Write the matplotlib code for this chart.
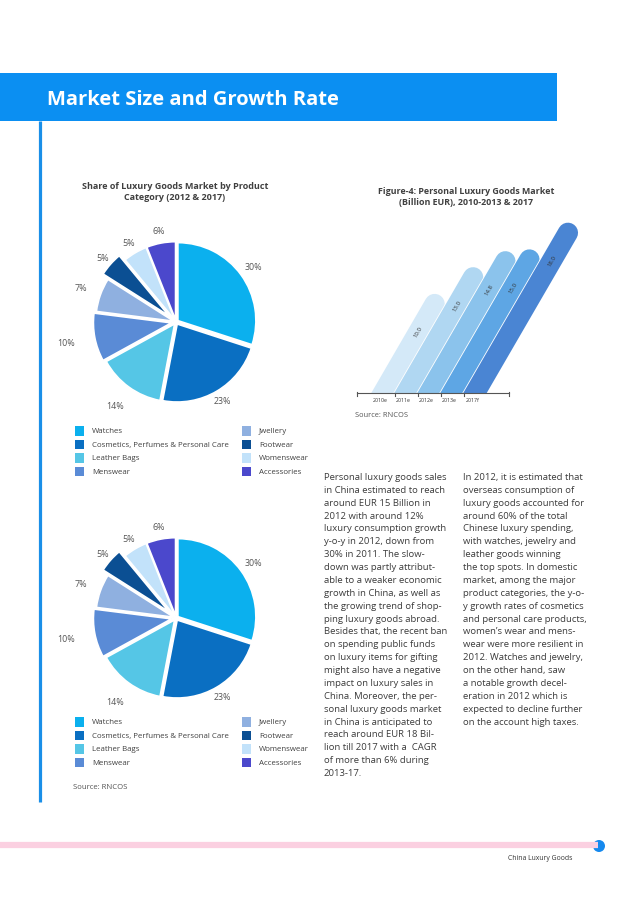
import matplotlib
matplotlib.use('Agg')
import matplotlib.pyplot as plt
from matplotlib.patches import Rectangle, Circle
import matplotlib.patheffects as pe
import numpy as np

W, H = 638, 903
FAM = ['Open Sans', 'DejaVu Sans']

# ---------------- data ----------------
page_title = "Market Size and Growth Rate"
pie_title = ["Share of Luxury Goods Market by Product", "Category (2012 & 2017)"]
categories = ["Watches", "Cosmetics, Perfumes & Personal Care", "Leather Bags", "Menswear",
              "Jwellery", "Footwear", "Womenswear", "Accessories"]
shares_2012 = [30, 23, 14, 10, 7, 5, 5, 6]
shares_2017 = [30, 23, 14, 10, 7, 5, 5, 6]
pie_colors = ['#0bb0ee', '#0a6fc2', '#55c6e6', '#5a8bd6', '#8fb0e0', '#0b4f93', '#c2e2fa', '#4b48cc']

bar_title = ["Figure-4: Personal Luxury Goods Market", "(Billion EUR), 2010-2013 & 2017"]
years = ["2010e", "2011e", "2012e", "2013e", "2017f"]
market_size = [10.0, 13.0, 14.8, 15.0, 18.0]
bar_colors = ['#d4e9f8', '#b0d7f2', '#8bc3ec', '#5ea6e4', '#4a85d3']

source = "Source: RNCOS"
footer = "China Luxury Goods"

col1 = ["Personal luxury goods sales", "in China estimated to reach", "around EUR 15 Billion in",
        "2012 with around 12%", "luxury consumption growth", "y-o-y in 2012, down from",
        "30% in 2011. The slow-", "down was partly attribut-", "able to a weaker economic",
        "growth in China, as well as", "the growing trend of shop-", "ping luxury goods abroad.",
        "Besides that, the recent ban", "on spending public funds", "on luxury items for gifting",
        "might also have a negative", "impact on luxury sales in", "China. Moreover, the per-",
        "sonal luxury goods market", "in China is anticipated to", "reach around EUR 18 Bil-",
        "lion till 2017 with a  CAGR", "of more than 6% during", "2013-17."]
col2 = ["In 2012, it is estimated that", "overseas consumption of", "luxury goods accounted for",
        "around 60% of the total", "Chinese luxury spending,", "with watches, jewelry and",
        "leather goods winning", "the top spots. In domestic", "market, among the major",
        "product categories, the y-o-", "y growth rates of cosmetics", "and personal care products,",
        "women\u2019s wear and mens-", "wear were more resilient in", "2012. Watches and jewelry,",
        "on the other hand, saw", "a notable growth decel-", "eration in 2012 which is",
        "expected to decline further", "on the account high taxes."]

# ---------------- figure ----------------
fig = plt.figure(figsize=(W / 100, H / 100), dpi=100)
fig.patch.set_facecolor('white')
renderer = fig.canvas.get_renderer()


def fit(text, target_px, weight='normal', base=10.0):
    t = fig.text(0, 0, text, fontsize=base, fontweight=weight, family=FAM)
    w = t.get_window_extent(renderer=renderer).width
    t.remove()
    return base * target_px / w


def px_axes(x0, y0, w, h):
    return fig.add_axes([x0 / W, 1 - (y0 + h) / H, w / W, h / H])


bg = fig.add_axes([0, 0, 1, 1])
bg.set_xlim(0, W)
bg.set_ylim(H, 0)
bg.axis('off')

BLUE = '#0b8ff2'
# header
bg.add_patch(Rectangle((0, 74), 557, 48, color=BLUE, lw=0))
bg.text(47, 105, page_title, fontsize=fit(page_title, 293, 'bold'), fontweight='bold',
        color='white', family=FAM, va='baseline', ha='left')
# vertical rule
bg.plot([39.5, 39.5], [122, 803], color='#1a8fe8', lw=2.3, solid_capstyle='butt')
# footer
bg.plot([0, 598], [846.5, 846.5], color='#fbd0e1', lw=4.5, solid_capstyle='butt')
bg.add_patch(Circle((599, 847), 6, color='#1589ee', lw=0))
bg.text(540, 859, footer, fontsize=fit(footer, 65), color='#333333', family=FAM,
        ha='center', va='center')

dark = '#404040'
# pie title
tfs = fit(pie_title[0], 187, 'bold')
bg.text(175, 189, pie_title[0], fontsize=tfs, fontweight='bold', color=dark, family=FAM,
        ha='center', va='baseline')
bg.text(175, 200.5, pie_title[1], fontsize=tfs, fontweight='bold', color=dark, family=FAM,
        ha='center', va='baseline')

# ---------------- pies ----------------
explode = [0.03, 0.03, 0.03, 0.06, 0.03, 0.12, 0.03, 0.03]
label_r = [1.22, 1.17, 1.32, 1.43, 1.30, 1.25, 1.18, 1.20]
pct_fs = fit("30%", 17.5)
leg_fs = fit(categories[1], 138)


def draw_pie(cx, cy, values, R=78):
    L = 1.55
    ax = px_axes(cx - L * R, cy - L * R, 2 * L * R, 2 * L * R)
    wedges, _ = ax.pie(values, colors=pie_colors, startangle=90, counterclock=False,
                       explode=explode, radius=1,
                       wedgeprops=dict(edgecolor='white', linewidth=1.2))
    ax.set_xlim(-L, L)
    ax.set_ylim(-L, L)
    ax.set_aspect('equal')
    ax.axis('off')
    for w, v, d in zip(wedges, values, label_r):
        ang = np.deg2rad((w.theta1 + w.theta2) / 2)
        ax.text(d * np.cos(ang), d * np.sin(ang), f"{v}%", ha='center', va='center',
                fontsize=pct_fs, color='#555555', family=FAM)


def draw_legend(top_y):
    for k, name in enumerate(categories):
        col, row = divmod(k, 4)
        xs = 75 if col == 0 else 242
        y = top_y + row * 13.5
        bg.add_patch(Rectangle((xs, y - 4.7), 9.4, 9.4, color=pie_colors[k], lw=0))
        bg.text(xs + 17, y, name, fontsize=leg_fs, color=dark, family=FAM,
                ha='left', va='center')


draw_pie(176, 323, shares_2012)
draw_legend(432)
draw_pie(176, 619, shares_2017)
draw_legend(723)
src_fs = fit(source, 55)
bg.text(73, 788, source, fontsize=src_fs, color='#555555', family=FAM, ha='left', va='center')

# ---------------- bar chart ----------------
bfs = fit(bar_title[0], 178, 'bold')
bg.text(466, 194, bar_title[0], fontsize=bfs, fontweight='bold', color=dark, family=FAM,
        ha='center', va='baseline')
bg.text(466, 205.5, bar_title[1], fontsize=bfs, fontweight='bold', color=dark, family=FAM,
        ha='center', va='baseline')

bx0, bx1, by0, by1 = 340, 630, 200, 394
x0px, xpx, ypx = 383.0, 23.0, 8.9
bax = px_axes(bx0, by0, bx1 - bx0, by1 - by0)
bax.set_xlim((bx0 - x0px) / xpx, (bx1 - x0px) / xpx)
bax.set_ylim(0, (by1 - by0) / ypx)
bax.axis('off')
slant = 0.58 * ypx / xpx
val_fs = fit("10.0", 12)
for i, v in enumerate(market_size):
    bax.plot([i - slant * 2, i + slant * v], [-2, v], color=bar_colors[i], lw=14.6,
             solid_capstyle='round',
             path_effects=[pe.Stroke(linewidth=15.8, foreground='white'), pe.Normal()])
    yl = v - 3.1
    bax.text(i + slant * yl, yl, f"{v:.1f}", rotation=60, rotation_mode='anchor',
             ha='center', va='center', fontsize=val_fs, color='#333333', family=FAM)

ax_l, ax_r = (357 - x0px) / xpx, (509 - x0px) / xpx
bax.plot([ax_l, ax_r], [0, 0], color='#555555', lw=0.8, clip_on=False)
tick_x = [ax_l] + [i + 0.5 for i in range(len(years) - 1)] + [ax_r]
for j, tx in enumerate(tick_x):
    lo = -3.3 / ypx
    hi = 1.3 / ypx if j in (0, len(tick_x) - 1) else 0
    bax.plot([tx, tx], [lo, hi], color='#555555', lw=0.8, clip_on=False)
yr_fs = fit("2010e", 15)
for i, yr in enumerate(years):
    bax.text(i - 0.1, -6 / ypx, yr, ha='center', va='center', fontsize=yr_fs,
             color='#333333', family=FAM, clip_on=False)
bg.text(355, 416, source, fontsize=fit(source, 53), color='#555555', family=FAM,
        ha='left', va='center')

# ---------------- body text ----------------
body_fs = fit(col1[0], 122)
for k, line in enumerate(col1):
    bg.text(324, 480 + 12.87 * k, line, fontsize=body_fs, color='#3c3c3c', family=FAM,
            ha='left', va='baseline')
for k, line in enumerate(col2):
    bg.text(463, 480 + 12.87 * k, line, fontsize=body_fs, color='#3c3c3c', family=FAM,
            ha='left', va='baseline')

fig.savefig('out.png', dpi=100, facecolor='white')
